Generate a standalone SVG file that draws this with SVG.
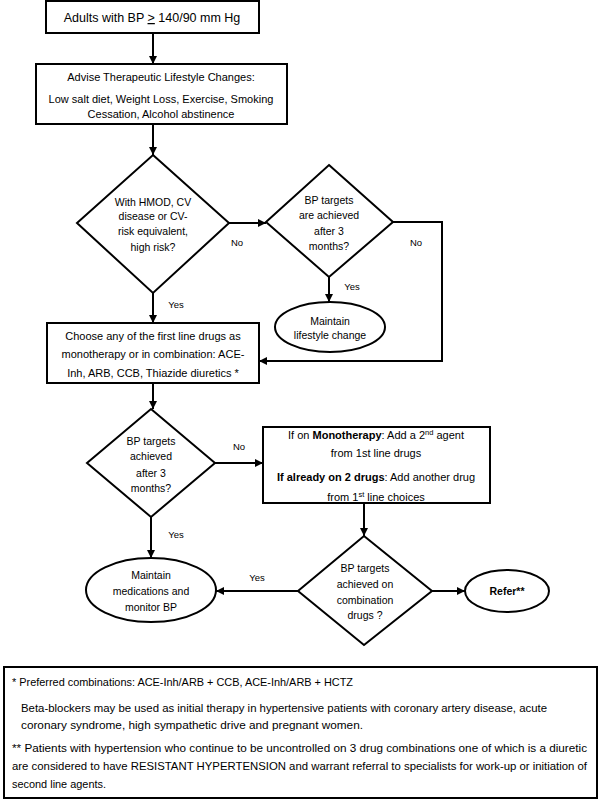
<svg xmlns="http://www.w3.org/2000/svg" width="600" height="803" viewBox="0 0 600 803">
<defs>
<marker id="ah" markerWidth="8" markerHeight="8" refX="8" refY="4" orient="auto" markerUnits="userSpaceOnUse">
<path d="M0,0 L8,4 L0,8 Z" fill="#000"/>
</marker>
<style>
.s{fill:#fff;stroke:#000;stroke-width:2}
.t{font-family:"Liberation Sans",Arial,sans-serif;font-size:11px;fill:#000;text-anchor:middle}
.d{font-family:"Liberation Sans",Arial,sans-serif;font-size:10.5px;fill:#000;text-anchor:middle}
.l{font-family:"Liberation Sans",Arial,sans-serif;font-size:9.5px;fill:#000;text-anchor:middle}
.f{font-family:"Liberation Sans",Arial,sans-serif;font-size:11px;fill:#000}
.c{fill:none;stroke:#000;stroke-width:2}
</style>
</defs>
<rect width="600" height="803" fill="#fff"/>
<g id="connectors">
<path class="c" d="M153,33 V64" marker-end="url(#ah)"/>
<path class="c" d="M153,124 V155" marker-end="url(#ah)"/>
<path class="c" d="M229,223 H266" marker-end="url(#ah)"/>
<path class="c" d="M393,222 H442 V361 H259" marker-end="url(#ah)"/>
<path class="c" d="M329,277 V302" marker-end="url(#ah)"/>
<path class="c" d="M153,293 V323" marker-end="url(#ah)"/>
<path class="c" d="M153,383 V409" marker-end="url(#ah)"/>
<path class="c" d="M215,463 H263" marker-end="url(#ah)"/>
<path class="c" d="M151,517 V558" marker-end="url(#ah)"/>
<path class="c" d="M364,503 V536" marker-end="url(#ah)"/>
<path class="c" d="M432,591 H465" marker-end="url(#ah)"/>
<path class="c" d="M298,591 H216" marker-end="url(#ah)"/>
<text class="l" x="237" y="246">No</text>
<text class="l" x="416" y="246">No</text>
<text class="l" x="352" y="290">Yes</text>
<text class="l" x="176" y="308">Yes</text>
<text class="l" x="239" y="450">No</text>
<text class="l" x="176" y="538">Yes</text>
<text class="l" x="257" y="581">Yes</text>
</g>
<g id="start">
<rect class="s" x="46" y="1" width="213" height="32"/>
<text class="t" x="152" y="22" style="font-size:12.5px">Adults with BP <tspan text-decoration="underline">&gt;</tspan> 140/90 mm Hg</text>
</g>
<g id="lifestyle">
<rect class="s" x="36" y="64" width="251" height="60"/>
<text class="t" x="161" y="81">Advise Therapeutic Lifestyle Changes:</text>
<text class="t" x="161" y="103">Low salt diet, Weight Loss, Exercise, Smoking</text>
<text class="t" x="161" y="118">Cessation, Alcohol abstinence</text>
</g>
<g id="risk">
<polygon class="s" points="153,155 229,223 153,293 77,223"/>
<text class="d" x="153" y="206">With HMOD, CV</text>
<text class="d" x="153" y="220">disease or CV-</text>
<text class="d" x="153" y="235">risk equivalent,</text>
<text class="d" x="153" y="251">high risk?</text>
</g>
<g id="target1">
<polygon class="s" points="329,165 393,222 329,277 266,222"/>
<text class="d" x="329" y="204">BP targets</text>
<text class="d" x="329" y="219">are achieved</text>
<text class="d" x="329" y="235">after 3</text>
<text class="d" x="329" y="250">months?</text>
</g>
<g id="maintain-lifestyle">
<ellipse class="s" cx="330" cy="327" rx="55" ry="25"/>
<text class="d" x="330" y="325">Maintain</text>
<text class="d" x="330" y="339">lifestyle change</text>
</g>
<g id="first-line">
<rect class="s" x="47" y="323" width="212" height="60"/>
<text class="t" x="153" y="340">Choose any of the first line drugs as</text>
<text class="t" x="153" y="358">monotherapy or in combination: ACE-</text>
<text class="t" x="153" y="377">Inh, ARB, CCB, Thiazide diuretics *</text>
</g>
<g id="target2">
<polygon class="s" points="151,409 215,463 151,517 87,463"/>
<text class="d" x="151" y="445">BP targets</text>
<text class="d" x="151" y="460">achieved</text>
<text class="d" x="151" y="477">after 3</text>
<text class="d" x="151" y="492">months?</text>
</g>
<g id="add-drug">
<rect class="s" x="263" y="427" width="227" height="76"/>
<text class="t" x="376" y="439">If on <tspan font-weight="bold">Monotherapy</tspan>: Add a 2<tspan font-size="7.5" baseline-shift="super">nd</tspan> agent</text>
<text class="t" x="376" y="457">from 1st line drugs</text>
<text class="t" x="376" y="481"><tspan font-weight="bold">If already on 2 drugs</tspan>: Add another drug</text>
<text class="t" x="376" y="501">from 1<tspan font-size="7.5" baseline-shift="super">st</tspan> line  choices</text>
</g>
<g id="target3">
<polygon class="s" points="364,536 432,591 364,645 298,591"/>
<text class="d" x="365" y="572">BP targets</text>
<text class="d" x="365" y="588">achieved on</text>
<text class="d" x="365" y="604">combination</text>
<text class="d" x="365" y="619">drugs ?</text>
</g>
<g id="maintain-meds">
<ellipse class="s" cx="151" cy="590" rx="65" ry="32"/>
<text class="d" x="151" y="579">Maintain</text>
<text class="d" x="151" y="595">medications and</text>
<text class="d" x="151" y="611">monitor BP</text>
</g>
<g id="refer">
<ellipse class="s" cx="507" cy="591" rx="42" ry="21"/>
<text class="d" x="507" y="595" font-weight="bold">Refer**</text>
</g>
<g id="notes">
<rect class="s" x="4" y="667" width="593" height="131"/>
<text class="f" x="12" y="686" textLength="341" lengthAdjust="spacingAndGlyphs">* Preferred combinations: ACE-Inh/ARB + CCB, ACE-Inh/ARB + HCTZ</text>
<text class="f" x="21" y="712" textLength="526" lengthAdjust="spacingAndGlyphs">Beta-blockers may be used as initial therapy in hypertensive patients with coronary artery disease, acute</text>
<text class="f" x="21" y="729" textLength="342" lengthAdjust="spacingAndGlyphs">coronary syndrome, high sympathetic drive and pregnant women.</text>
<text class="f" x="12" y="752" textLength="575" lengthAdjust="spacingAndGlyphs">** Patients with hypertension who continue to be uncontrolled on 3 drug combinations one of which is a diuretic</text>
<text class="f" x="12" y="770" textLength="575" lengthAdjust="spacingAndGlyphs">are considered to have RESISTANT HYPERTENSION and warrant referral to specialists for work-up or initiation of</text>
<text class="f" x="12" y="788" textLength="94" lengthAdjust="spacingAndGlyphs">second line agents.</text>
</g>
</svg>
